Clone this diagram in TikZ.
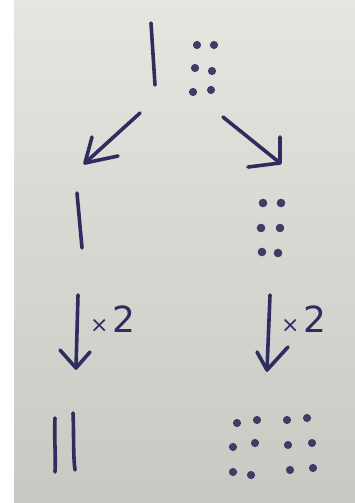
\documentclass[tikz,border=0pt]{standalone}
\usepackage{fontspec}
\usetikzlibrary{calc}
\newfontfamily\handfont{DejaVu Sans}
\definecolor{ink}{HTML}{2E2D5E}
\definecolor{dotink}{HTML}{3E3D63}
\definecolor{papertop}{HTML}{E6E6E1}
\definecolor{paperbot}{HTML}{C8C9C3}
\tikzset{
  stroke/.style={draw=ink, line width=3.6pt, line cap=round, line join=round},
  dotmark/.style={fill=dotink, draw=none},
  grp/.style={inner sep=0pt, outer sep=0pt, draw=none},
  lbl/.style={text=ink, inner sep=0pt, font=\handfont}
}
\begin{document}
\begin{tikzpicture}[x=1pt,y=-1pt]
\useasboundingbox (0,0) rectangle (355,503);
\fill[white] (0,0) rectangle (355,503);
\shade[top color=papertop, bottom color=paperbot] (14,0) rectangle (355,503);

% group anchors
\node[grp, minimum width=66pt, minimum height=72pt] (top) at (183,57) {};
\node[grp, minimum width=10pt, minimum height=58pt] (midL) at (80,220) {};
\node[grp, minimum width=26pt, minimum height=56pt] (midR) at (271,228) {};
\node[grp, minimum width=28pt, minimum height=62pt] (botL) at (64,443) {};
\node[grp, minimum width=84pt, minimum height=60pt] (botR) at (273,446) {};

% top: one stroke and six dots
\draw[stroke] (151,23) -- (155,85);
\foreach \p in {(197,45),(214,45),(195,68),(212,71),(193,92),(211,90)}
  \fill[dotmark] \p circle (4.1pt);

% middle left: one stroke
\draw[stroke] (77,193) -- (82,248);
% middle right: six dots
\foreach \p in {(263,203),(281,203),(261,228),(280,228),(262,252),(278,253)}
  \fill[dotmark] \p circle (4.3pt);

% bottom left: two strokes
\draw[stroke] (55,418) .. controls (54,440) and (56,455) .. (55,472);
\draw[stroke] (73,413) .. controls (74,435) and (73,455) .. (75,470);
% bottom right: twelve dots
\foreach \p in {(237,423),(257,420),(233,447),(255,443),(233,472),(251,475),
                (287,420),(307,418),(288,445),(312,443),(290,470),(313,468)}
  \fill[dotmark] \p circle (4.1pt);

% arrow coordinates
\coordinate (aL1) at (140,113);
\coordinate (aL2) at (85,163);
\coordinate (aR1) at (223,117);
\coordinate (aR2) at (280,163);
\coordinate (dL1) at (78,295);
\coordinate (dL2) at (76,368);
\coordinate (dR1) at (270,295);
\coordinate (dR2) at (267,370);

% diagonal arrows
\draw[stroke] (aL1) -- (aL2);
\draw[stroke] ($(aL2)+(7,-26)$) -- (aL2) -- ($(aL2)+(33,-7)$);
\draw[stroke] (aR1) -- (aR2);
\draw[stroke] ($(aR2)+(0,-26)$) -- (aR2) -- ($(aR2)+(-32,4)$);

% down arrows
\draw[stroke] (dL1) -- (dL2);
\draw[stroke] ($(dL2)+(-16,-18)$) -- (dL2) -- ($(dL2)+(14,-16)$);
\draw[stroke] (dR1) -- (dR2);
\draw[stroke] ($(dR2)+(-10,-18)$) -- (dR2) -- ($(dR2)+(21,-23)$);

% labels
\node[lbl, anchor=base west] (xL) at (90,332) {{\fontsize{22}{22}\selectfont ×}\hspace{4pt}{\fontsize{36}{36}\selectfont 2}};
\node[lbl, anchor=base west] (xR) at (281,332) {{\fontsize{22}{22}\selectfont ×}\hspace{4pt}{\fontsize{36}{36}\selectfont 2}};
\end{tikzpicture}
\end{document}
